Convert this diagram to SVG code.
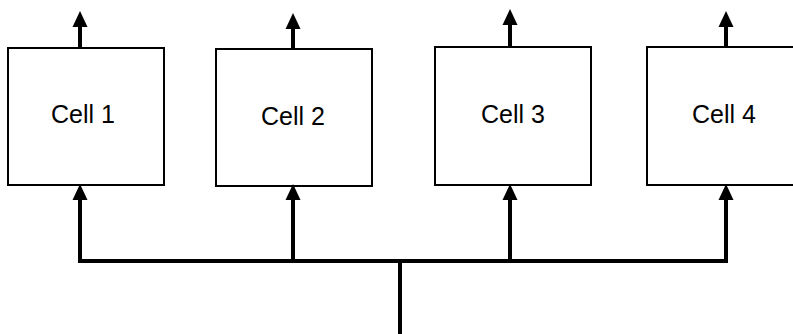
<svg xmlns="http://www.w3.org/2000/svg" width="793" height="334" viewBox="0 0 793 334">
<style>
.box{fill:#fff;stroke:#000;stroke-width:2}
.lbl{font-family:"Liberation Sans",Arial,sans-serif;font-size:25px;fill:#000;text-anchor:middle}
.wire{fill:none;stroke:#000;stroke-width:4;stroke-linejoin:miter}
</style>
<defs>
<marker id="ah" markerUnits="userSpaceOnUse" markerWidth="16" markerHeight="16" refX="0" refY="7.5" orient="auto" overflow="visible">
<path d="M0,0 L16,7.5 L0,15 z" fill="#000"/>
</marker>
</defs>
<rect width="793" height="334" fill="#fff"/>
<g id="cell1"><rect class="box" x="8" y="48" width="156" height="137"/><text class="lbl" x="83" y="123">Cell 1</text></g>
<g id="cell2"><rect class="box" x="216" y="49" width="156" height="137"/><text class="lbl" x="293" y="125">Cell 2</text></g>
<g id="cell3"><rect class="box" x="435" y="47" width="156" height="138"/><text class="lbl" x="513" y="123">Cell 3</text></g>
<g id="cell4"><rect class="box" x="647" y="47" width="156" height="138"/><text class="lbl" x="724" y="123">Cell 4</text></g>
<g id="connectors">
<path class="wire" d="M80,48 V27" marker-end="url(#ah)"/>
<path class="wire" d="M293,49 V29" marker-end="url(#ah)"/>
<path class="wire" d="M510,47 V25" marker-end="url(#ah)"/>
<path class="wire" d="M726,47 V27" marker-end="url(#ah)"/>
<path class="wire" d="M80,199 V261 H726 V199" />
<path class="wire" d="M80,262 V200" marker-end="url(#ah)"/>
<path class="wire" d="M726,262 V200" marker-end="url(#ah)"/>
<path class="wire" d="M293,261 V200" marker-end="url(#ah)"/>
<path class="wire" d="M510,261 V200" marker-end="url(#ah)"/>
<path class="wire" d="M400,261 V334"/>
</g>
</svg>
